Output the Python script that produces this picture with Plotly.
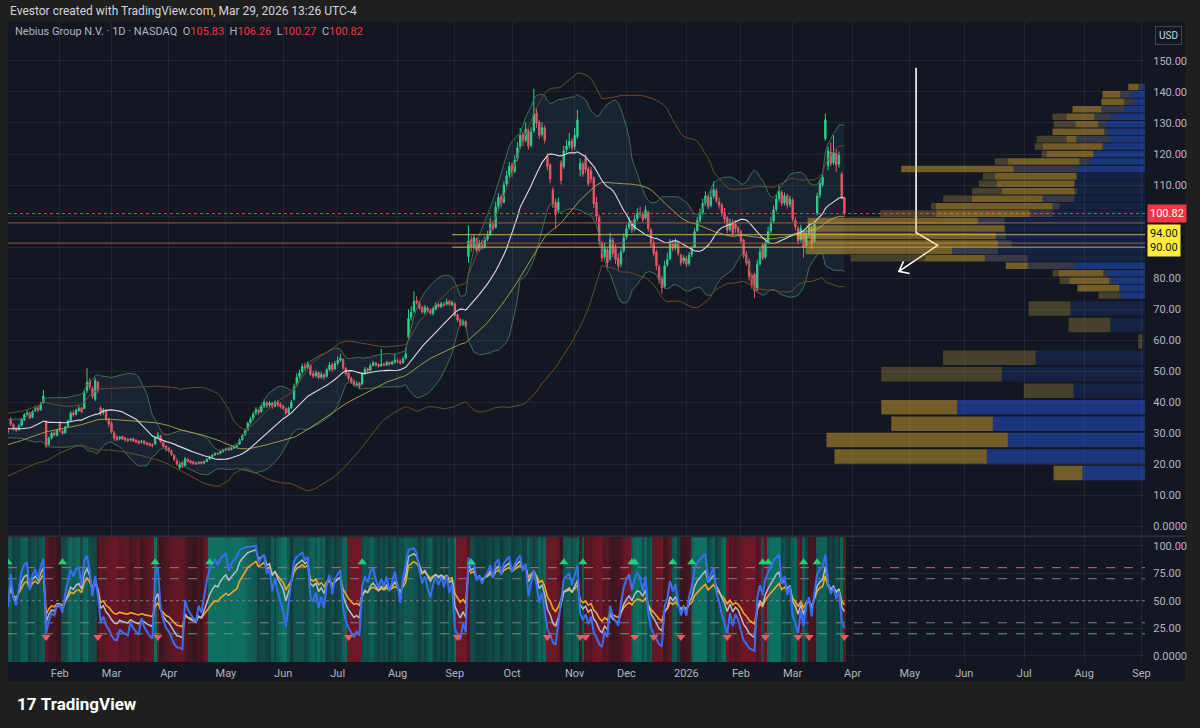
import numpy as np
import pandas as pd
import plotly.graph_objects as go

# ---------------- DATA ----------------
# off-screen warm-up closes (Oct 21 - Dec 31 2024) so indicators exist at the left edge
pre_close = [20.0,19.2,18.6,18.2,18.9,19.6,19.0,18.5,19.3,
             19.8,20.6,21.4,20.8,21.9,22.6,21.7,21.0,21.8,22.9,23.5,22.8,24.1,24.8,24.2,25.5,26.3,25.6,27.2,28.0,
             28.6,29.9,31.4,30.5,31.8,33.2,32.4,33.6,34.8,33.9,32.6,31.5,30.4,29.8,28.9,30.6,31.9,30.8,29.7,30.5,31.2]

# daily bars Jan 2 2025 .. Mar 27 2026 (one line per month)
opens = [
 31.5,31.0,34.6,32.8,31.6,31.2,32.6,34.3,36.2,36.6,35.2,37.4,38.2,37.6,39.8,33.8,26.5,28.6,30.2,29.4,
 33.6,30.8,30.2,32.2,34.2,36.6,36.2,37.4,38.2,38.0,43.8,46.8,44.5,41.0,46.4,38.2,36.8,37.4,34.6,
 33.4,30.2,28.8,28.4,29.0,28.6,28.2,27.9,28.4,27.8,27.5,27.2,27.6,27.0,26.8,26.4,26.6,28.8,29.2,27.0,25.9,
 25.2,24.4,23.0,21.0,19.0,20.6,19.6,21.6,21.2,20.9,20.6,20.4,20.8,20.5,21.0,21.8,22.5,23.1,23.6,23.6,24.2,
 24.7,25.1,24.8,25.3,25.7,26.6,28.0,29.6,31.2,33.4,34.8,36.4,37.6,37.0,38.8,39.8,39.2,39.8,38.8,40.2,39.4,
 38.8,38.0,36.6,38.2,41.0,45.6,48.4,49.8,51.8,51.2,52.0,49.2,48.6,49.6,48.2,49.0,48.4,50.6,52.2,50.8,
 52.6,53.6,53.8,51.0,49.4,47.8,46.8,45.6,46.2,46.0,49.2,50.8,50.4,51.9,52.8,52.2,51.8,52.2,52.0,52.9,52.4,52.9,
 53.4,53.2,52.8,54.2,61.0,67.4,69.4,72.8,72.2,70.6,69.0,70.4,69.8,68.6,70.0,71.6,70.8,71.6,71.6,72.6,71.4,
 71.8,68.2,66.6,65.2,66.0,87.0,92.4,90.2,92.8,89.2,91.6,90.2,92.6,94.2,97.6,96.4,103.2,106.2,104.4,110.4,113.2,
 116.4,114.4,118.6,122.4,126.2,124.4,127.6,122.8,127.4,133.2,130.2,126.4,128.4,119.0,116.4,108.4,104.4,102.0,117.2,116.0,121.4,122.8,124.2,
 122.4,125.6,115.0,116.8,118.6,115.2,114.6,112.2,104.4,99.6,91.2,86.8,89.2,86.2,92.2,89.6,86.4,84.6,88.8,
 93.2,96.4,97.8,95.8,99.2,101.2,100.6,99.4,101.2,95.6,91.4,88.4,83.6,79.8,77.4,84.4,86.2,91.0,89.8,91.6,87.4,85.6,
 86.4,84.8,87.6,90.0,95.4,98.6,101.2,104.2,106.4,103.4,106.4,108.2,104.6,103.6,101.2,99.4,95.8,98.2,97.6,96.2,
 95.0,92.2,87.6,85.4,80.8,81.2,76.4,84.6,90.8,86.8,91.6,95.2,98.4,102.2,105.6,107.6,104.2,106.6,103.8,
 105.0,98.6,96.0,92.4,95.2,90.6,94.2,96.2,92.0,101.0,106.8,110.2,125.0,116.2,120.6,117.2,120.2,116.8,113.6,105.83]
highs = [
 32.4,31.8,35.2,33.3,32.1,33.0,35.0,36.6,37.7,37.0,37.5,39.0,38.8,40.2,44.0,34.2,29.0,30.6,31.0,31.5,
 34.0,31.4,32.5,34.4,37.2,37.4,38.0,38.9,38.6,43.8,51.0,47.8,45.2,48.0,47.0,38.8,38.2,37.8,35.0,
 34.0,30.8,29.4,29.2,29.3,28.9,28.5,28.6,28.6,28.1,27.8,27.9,27.8,27.3,27.1,26.8,29.2,30.4,29.6,27.3,26.2,
 25.6,24.8,23.3,21.6,20.8,21.0,22.4,22.2,21.5,21.2,20.9,21.0,21.0,21.3,22.0,22.8,23.4,23.9,24.0,24.5,25.0,
 25.4,25.4,25.6,26.0,26.4,28.4,29.8,31.6,33.8,35.4,37.0,38.4,38.0,39.2,41.0,40.3,40.4,40.1,40.6,40.8,40.0,
 39.2,38.4,38.6,40.8,46.0,49.4,50.6,52.6,52.8,53.2,52.4,50.2,50.4,50.0,49.8,49.4,51.2,53.0,52.8,53.4,
 54.8,55.6,54.2,51.4,49.8,48.2,47.4,46.8,46.6,49.8,51.4,51.2,52.6,53.4,53.0,52.6,57.2,52.8,53.4,53.2,53.4,55.8,
 54.2,53.8,54.8,57.6,70.0,71.0,75.8,74.2,72.8,71.2,71.4,71.0,70.2,70.8,72.2,72.0,72.4,72.4,73.4,73.0,72.8,
 72.2,68.6,67.2,66.8,66.4,97.0,93.6,94.2,93.2,92.4,92.4,93.4,95.2,99.4,98.6,104.6,107.4,107.0,111.2,114.6,117.4,
 117.2,119.6,123.8,128.4,127.0,130.2,128.2,128.6,141.0,134.6,131.0,130.2,129.2,120.4,117.0,109.2,105.6,106.0,118.0,122.6,124.6,126.8,125.0,
 128.4,134.2,118.6,117.6,120.0,116.0,115.8,112.8,106.2,100.4,92.0,91.6,90.0,94.6,93.0,91.0,88.0,89.6,94.4,
 97.2,99.6,98.6,100.4,102.6,103.0,101.4,103.4,101.6,96.2,92.6,89.2,84.4,80.8,85.6,88.2,92.6,92.4,92.8,92.0,88.0,87.4,
 87.2,88.4,90.4,96.2,99.8,102.4,105.6,108.0,107.0,108.6,111.2,109.0,106.0,104.2,102.6,100.0,99.2,99.0,98.8,97.0,
 95.6,92.8,88.8,86.4,81.6,81.8,86.0,89.8,91.4,92.6,96.6,99.8,103.4,107.0,109.8,108.4,107.6,107.2,106.6,
 105.8,99.6,96.8,97.2,95.6,95.6,97.8,96.8,98.6,107.6,111.8,113.6,133.0,122.4,123.8,126.0,121.4,120.8,114.2,106.26]
lows = [
 30.2,29.8,32.4,30.9,30.4,30.9,32.2,34.0,35.6,34.6,34.9,36.9,36.8,37.3,39.5,25.2,26.0,28.0,29.0,29.0,
 30.4,29.5,29.9,31.8,33.8,35.4,35.8,36.9,36.5,37.8,43.0,44.2,41.2,40.4,43.0,35.6,35.9,34.0,32.1,
 30.0,27.6,27.4,27.8,27.9,27.4,27.1,27.4,27.2,26.8,26.5,26.7,26.4,26.0,25.8,25.5,26.4,28.4,26.8,25.3,24.2,
 23.8,22.7,21.0,19.5,18.4,18.8,19.3,20.6,20.2,19.9,19.8,20.0,20.0,20.2,20.8,21.5,22.2,22.8,23.1,23.3,23.9,
 24.4,24.3,24.5,25.0,25.4,26.3,27.6,29.2,30.8,32.8,34.2,35.9,36.0,36.6,38.2,38.2,38.4,37.9,38.4,38.6,38.0,
 37.6,36.0,36.2,37.9,40.6,45.0,47.6,49.2,50.2,50.6,48.4,47.8,48.0,47.4,47.6,47.2,48.0,50.0,49.8,50.4,
 52.0,53.0,50.4,48.6,47.0,46.0,45.0,45.2,44.4,45.6,48.8,49.6,50.0,51.6,51.6,51.2,51.4,51.6,51.8,51.8,52.0,52.4,
 52.6,52.2,52.4,53.8,60.0,66.4,68.8,71.4,69.8,68.6,68.4,69.0,68.2,68.0,69.6,70.4,70.4,70.8,71.2,71.0,71.0,
 67.6,65.8,64.4,64.6,63.8,85.0,88.4,89.4,88.2,88.6,89.2,89.6,92.0,93.6,95.2,96.0,102.2,102.8,104.0,109.6,112.4,
 112.6,113.8,117.8,121.6,122.6,123.8,121.4,122.0,126.8,128.4,124.8,125.6,123.4,114.8,110.6,102.6,96.0,100.8,110.2,115.2,120.2,121.8,120.8,
 121.2,124.8,112.8,112.6,113.8,109.6,110.6,102.6,98.2,90.6,85.2,85.8,83.4,85.6,86.8,84.6,82.8,83.6,88.2,
 92.4,95.6,94.6,95.2,98.4,99.6,98.0,98.8,95.0,90.0,87.0,82.6,78.2,75.0,76.8,83.6,85.8,88.6,89.0,87.2,84.0,84.6,
 83.6,84.0,86.8,89.6,94.8,97.8,100.4,103.4,102.2,102.8,105.6,104.2,102.4,99.8,97.8,94.4,95.0,93.6,94.6,93.8,
 91.0,86.4,84.0,79.2,76.6,73.6,75.8,84.0,85.8,86.2,90.8,94.4,97.6,101.4,104.6,103.2,103.4,102.4,102.8,
 98.2,95.4,90.8,91.6,86.6,89.8,93.0,89.4,91.4,100.2,105.8,109.4,124.2,114.8,116.0,116.4,114.2,115.6,105.4,100.27]
closes = [
 31.0,30.5,33.0,31.5,31.0,32.5,34.5,36.0,36.5,35.0,37.0,38.0,37.5,39.5,42.0,26.0,28.5,30.0,29.5,31.0,
 31.0,30.0,32.0,34.0,36.5,36.0,37.5,38.0,37.0,43.0,46.5,45.0,42.0,47.0,44.0,36.5,37.5,34.5,33.0,
 30.5,28.4,28.0,28.8,28.2,27.9,27.6,28.1,27.5,27.2,26.9,27.3,26.8,26.5,26.2,26.0,28.6,29.4,27.2,25.8,24.8,
 24.3,23.2,21.6,20.2,20.0,19.4,21.8,21.0,20.6,20.3,20.1,20.6,20.3,20.9,21.6,22.4,23.0,23.5,23.4,24.1,24.6,
 25.0,24.7,25.2,25.6,26.0,27.8,29.2,30.8,33.2,34.6,36.2,37.6,36.8,38.6,40.0,39.0,39.8,38.6,40.0,39.2,38.6,
 38.0,36.5,38.0,40.0,45.0,48.0,49.5,51.5,51.0,52.5,49.0,48.5,49.5,48.0,49.0,48.0,50.5,52.0,50.5,52.5,
 53.5,54.2,51.0,49.2,47.8,46.6,45.6,45.9,45.2,49.0,50.6,50.2,51.8,52.6,52.0,51.6,52.4,52.1,52.8,52.3,52.9,53.6,
 53.2,52.6,54.0,55.6,67.0,69.0,72.5,72.0,70.4,69.2,70.6,69.6,68.8,70.2,71.4,70.9,71.8,71.3,72.4,71.6,72.2,
 68.0,66.5,65.0,66.0,64.5,92.0,90.0,93.0,89.0,91.5,90.0,92.5,94.0,97.5,96.0,103.0,106.0,104.0,110.0,113.0,116.0,
 114.0,118.0,122.0,126.0,124.0,128.0,122.5,127.0,133.0,130.0,126.0,128.5,124.5,116.0,112.0,104.0,100.5,104.5,111.5,121.0,122.5,124.0,122.0,
 126.0,131.0,117.0,113.5,115.0,110.5,112.0,104.0,100.0,92.0,86.5,89.5,85.0,92.5,88.0,86.0,84.0,88.5,93.0,
 96.0,98.0,95.5,99.0,101.0,100.5,99.0,102.0,96.0,91.0,88.0,84.0,79.5,77.0,84.0,86.0,91.5,89.5,91.5,88.0,85.0,86.5,
 84.5,87.5,89.5,95.0,98.5,101.0,104.0,106.5,103.0,106.0,108.5,105.0,103.5,101.0,99.0,95.5,98.0,94.5,96.0,94.8,
 92.0,87.5,85.0,80.5,78.0,76.0,84.5,88.5,86.5,91.5,95.0,98.0,102.0,105.5,108.0,104.0,106.5,103.5,105.5,
 99.0,96.5,92.0,96.0,90.0,94.5,96.5,91.0,97.5,106.5,110.5,112.5,131.0,121.0,117.0,120.5,116.5,119.5,106.0,100.82]

# bar index of the first trading day of each month (axis labels)
month_idx = [20, 39, 60, 81, 102, 122, 144, 165, 186, 209, 228, 250, 270, 289, 311, 332, 352, 374, 396, 417]
month_labels = ["Feb","Mar","Apr","May","Jun","Jul","Aug","Sep","Oct","Nov","Dec","2026",
                "Feb","Mar","Apr","May","Jun","Jul","Aug","Sep"]

price_ticks = [0,10,20,30,40,50,60,70,80,90,100,110,120,130,140,150]
osc_ticks = [0, 25, 50, 75, 100]

last_price = 100.82
level_prices = [94.0, 90.0]      # yellow horizontal rays (labelled)
level_start = 164                # bar where the rays start
orange_levels = [97.8, 91.3]     # thin orange full-width lines

# oscillator signal bars (green = bullish flip, red = bearish flip)
sig_up_idx = [1, 21, 55, 75, 131, 171, 205, 212, 230, 231, 245, 252, 278, 280, 293, 298]
sig_dn_idx = [15, 34, 56, 126, 166, 199, 211, 213, 231, 238, 248, 265, 279, 291, 295, 308]

# hand-drawn arrow (bar index, price)
arrow_x = [334.3, 334.3, 342.2, 328.0]
arrow_y = [147.8, 94.7, 90.6, 82.2]
head_x = [331.9, 328.0, 329.7]
head_y = [81.5, 82.2, 85.4]

# volume profile, coarse rows (price low of each row, relative volumes)
cp_low = [14.6, 19.9, 25.2, 30.5, 35.8, 41.1, 46.4, 51.7, 57.0, 62.3, 67.6]
cp_up = [63, 159, 138, 153, 189, 72, 144, 110, 3, 35, 75]
cp_down = [29, 153, 182, 102, 76, 50, 121, 93, 4, 42, 42]
cp_va = [1, 1, 1, 1, 1, 0, 0, 0, 0, 0, 0]
# volume profile, fine rows
fp_low = [73.2, 75.6, 78.0, 80.4, 82.8, 85.2, 87.6, 90.0, 92.4, 94.8, 97.2, 99.6, 102.0, 104.4, 106.8,
          109.2, 111.6, 114.0, 116.4, 118.8, 121.2, 123.6, 126.0, 128.4, 130.8, 133.2, 135.6, 138.0, 140.4]
fp_up = [24, 26, 33, 38, 71, 118, 148, 134, 140, 141, 141, 93, 86, 71, 68, 71, 69, 68, 56, 52, 41, 36, 38, 39, 34, 21, 11, 15, 3]
fp_va = [1, 1, 1, 1, 1, 0, 0, 0, 0, 0, 0, 0, 0, 0, 0, 0, 0, 1, 1, 1, 1, 1, 1, 1, 1, 1, 1, 1, 1]
fp_mid = [3, 0, 3, 4, 47, 43, 46, 14, 10, 0, 27, 23, 7, 32, 3, 0, 0, 64, 10, 0, 2, 33, 3, 8, 17, 23, 10, 10, 4]
fp_down = [0, 42, 40, 45, 22, 60, 147, 193, 200, 198, 171, 94, 117, 71, 73, 78, 82, 113, 72, 47, 60, 10, 52, 23, 28, 29, 23, 18, 10]
fp_ext = [20, 0, 10, 6, 0, 75, 0, 0, 0, 0, 0, 56, 5, 29, 30, 18, 12, 0, 13, 5, 8, 30, 0, 22, 14, 0, 0, 0, 0]

assert len(opens) == len(highs) == len(lows) == len(closes) == 309

# ---------------- indicators ----------------
N = len(closes)
xs = np.arange(N)
npre = len(pre_close)
allc = pd.Series(pre_close + closes, dtype=float)

def bands(s, n, k=2.0):
    m = s.rolling(n, min_periods=1).mean()
    sd = s.rolling(n, min_periods=1).std(ddof=0)
    return [a.iloc[npre:].to_numpy() for a in (m, m + k * sd, m - k * sd)]

m20, u20, l20 = bands(allc, 20)
m50, u50, l50 = bands(allc, 50)

def rsi(s, n):
    d = s.diff()
    g = d.clip(lower=0)
    l = (-d).clip(lower=0)
    ag = g.ewm(alpha=1 / n, adjust=False).mean()
    al = l.ewm(alpha=1 / n, adjust=False).mean()
    return (100 - 100 / (1 + ag / al)).iloc[npre:].to_numpy()

fast = rsi(allc, 4)
mid = rsi(allc, 8)
slow = rsi(allc, 14)

# regime from the signal bars, shade strength from the fast/slow spread
ev = {i: 1 for i in sig_up_idx}
ev.update({i: -1 for i in sig_dn_idx if i not in ev})
state = np.zeros(N)
cur = -1
for i in range(N):
    if i in ev:
        cur = ev[i]
    state[i] = cur
strength = 0.3 + 0.7 * np.clip(np.abs(fast - slow) / 25.0, 0, 1)
shade = state * strength

# ---------------- style ----------------
BG = "#131722"
GRID = "rgba(54,58,69,0.45)"
TXT = "#b2b5be"
UPC = "#2bd48c"
DNC = "#f5535f"
FONT = "Roboto"
XD = [8 / 1200, 1150 / 1200]
XR = [0.99, 418.4]
TRI_UP_Y, TRI_DN_Y = 85, 17

fig = go.Figure()

# 20-period Bollinger fill + bands
fig.add_trace(go.Scatter(x=xs, y=u20, mode="lines", line=dict(color="#3f6e55", width=1), xaxis="x", yaxis="y"))
fig.add_trace(go.Scatter(x=xs, y=l20, mode="lines", line=dict(color="#3f6e55", width=1), fill="tonexty",
                         fillcolor="rgba(90,140,175,0.11)", xaxis="x", yaxis="y"))
# 50-period bands
fig.add_trace(go.Scatter(x=xs, y=u50, mode="lines", line=dict(color="#6a4a30", width=1), xaxis="x", yaxis="y"))
fig.add_trace(go.Scatter(x=xs, y=l50, mode="lines", line=dict(color="#6a4a30", width=1), xaxis="x", yaxis="y"))
fig.add_trace(go.Scatter(x=xs, y=m50, mode="lines", line=dict(color="#a39550", width=1), xaxis="x", yaxis="y"))
fig.add_trace(go.Scatter(x=xs, y=m20, mode="lines", line=dict(color="#d9dce3", width=1.1), xaxis="x", yaxis="y"))

# horizontal levels
for p in orange_levels:
    fig.add_trace(go.Scatter(x=XR, y=[p, p], mode="lines", line=dict(color="#a8563a", width=1), xaxis="x", yaxis="y"))
for p in level_prices:
    fig.add_trace(go.Scatter(x=[level_start, XR[1]], y=[p, p], mode="lines", line=dict(color="#c8b24e", width=1),
                             xaxis="x", yaxis="y"))
fig.add_trace(go.Scatter(x=XR, y=[last_price, last_price], mode="lines",
                         line=dict(color="#f23645", width=1, dash="dot"), xaxis="x", yaxis="y"))

# candles
fig.add_trace(go.Candlestick(x=xs, open=opens, high=highs, low=lows, close=closes,
                             increasing=dict(line=dict(color=UPC, width=1), fillcolor=UPC),
                             decreasing=dict(line=dict(color=DNC, width=1), fillcolor=DNC),
                             whiskerwidth=0, xaxis="x", yaxis="y"))

# volume profile on overlay axis x3 (0 at right edge)
UP_B, UP_D = "rgba(41,98,255,0.42)", "rgba(41,98,255,0.15)"
MIDC = "rgba(140,140,155,0.30)"
DN_B, DN_D = "rgba(230,180,50,0.45)", "rgba(190,160,70,0.30)"

def profile(lows_, row, up, va, parts):
    y = [lo + row / 2 for lo in lows_]
    base = np.zeros(len(lows_))
    up = np.array(up, float)
    fig.add_trace(go.Bar(x=up, y=y, base=base, orientation="h", width=row * 0.88,
                         marker=dict(color=[UP_B if v else UP_D for v in va], line=dict(width=0)),
                         xaxis="x3", yaxis="y"))
    base = base + up
    for vals, cols in parts:
        vals = np.array(vals, float)
        fig.add_trace(go.Bar(x=vals, y=y, base=base, orientation="h", width=row * 0.88,
                             marker=dict(color=cols, line=dict(width=0)), xaxis="x3", yaxis="y"))
        base = base + vals

profile(cp_low, 5.3, cp_up, cp_va, [(cp_down, [DN_B if v else DN_D for v in cp_va])])
profile(fp_low, 2.4, fp_up, fp_va, [(fp_mid, MIDC), (fp_down, DN_B), (fp_ext, DN_D)])

# arrow drawing
fig.add_trace(go.Scatter(x=arrow_x, y=arrow_y, mode="lines", line=dict(color="#ffffff", width=1.6), xaxis="x", yaxis="y"))
fig.add_trace(go.Scatter(x=head_x, y=head_y, mode="lines", line=dict(color="#ffffff", width=1.6), xaxis="x", yaxis="y"))

# ---- oscillator pane ----
fig.add_trace(go.Heatmap(x=xs, y=[-10, 120], z=[shade, shade], zmin=-1, zmax=1, showscale=False,
                         colorscale=[[0, "#6e1727"], [0.35, "#34161f"], [0.5, "#241a26"],
                                     [0.65, "#123a3b"], [1, "#0e7062"]],
                         xaxis="x2", yaxis="y2"))
for lv, col, dash in [(80, "#d9607a", "dash"), (70, "#7b7f8a", "dash"), (50, "#7b7f8a", "dot"),
                      (30, "#7b7f8a", "dash"), (20, "#5f9c74", "dash")]:
    fig.add_trace(go.Scatter(x=XR, y=[lv, lv], mode="lines", line=dict(color=col, width=1, dash=dash),
                             xaxis="x2", yaxis="y2"))
fig.add_trace(go.Scatter(x=xs, y=slow, mode="lines", line=dict(color="#f5a623", width=1.6), xaxis="x2", yaxis="y2"))
fig.add_trace(go.Scatter(x=xs, y=mid, mode="lines", line=dict(color="#b9bcc6", width=1.5), xaxis="x2", yaxis="y2"))
fig.add_trace(go.Scatter(x=xs, y=fast, mode="lines", line=dict(color="#3a6cf4", width=2), xaxis="x2", yaxis="y2"))
fig.add_trace(go.Scatter(x=sig_up_idx, y=[TRI_UP_Y] * len(sig_up_idx), mode="markers",
                         marker=dict(symbol="triangle-up", size=8, color="#22d07a"), xaxis="x2", yaxis="y2"))
fig.add_trace(go.Scatter(x=sig_dn_idx, y=[TRI_DN_Y] * len(sig_dn_idx), mode="markers",
                         marker=dict(symbol="triangle-down", size=8, color="#f25563"), xaxis="x2", yaxis="y2"))

tf = dict(family=FONT, size=11, color=TXT)
# price-scale labels hidden behind the price/level tags (as on the reference)
hidden = {round(last_price, -1)} | {round(p, -1) for p in level_prices}
price_text = [("" if v in hidden else ("0.0000" if v == 0 else f"{v:.2f}")) for v in price_ticks]
fig.update_layout(
    width=1200, height=728, margin=dict(l=0, r=0, t=0, b=0),
    paper_bgcolor="#1f1f1f", plot_bgcolor="rgba(0,0,0,0)",
    showlegend=False, barmode="overlay", hovermode=False,
    xaxis=dict(domain=XD, range=XR, anchor="y", tickvals=month_idx, showticklabels=False, ticks="",
               showgrid=True, gridcolor=GRID, zeroline=False, rangeslider=dict(visible=False)),
    yaxis=dict(domain=[1 - 536 / 728, 1 - 22 / 728], range=[-2.8, 162.53], side="right", anchor="x",
               tickvals=price_ticks, ticktext=price_text,
               showgrid=True, gridcolor=GRID, zeroline=False, ticks="", tickfont=tf, ticklabelstandoff=7),
    xaxis2=dict(domain=XD, range=XR, anchor="y2", tickvals=month_idx, ticktext=month_labels, ticks="",
                showgrid=True, gridcolor=GRID, zeroline=False, tickfont=tf, ticklabelstandoff=3),
    yaxis2=dict(domain=[1 - 663 / 728, 1 - 538 / 728], range=[-5.71, 107.62], side="right", anchor="x2",
                tickvals=osc_ticks, ticktext=["0.0000", "25.00", "50.00", "75.00", "100.00"],
                showgrid=True, gridcolor=GRID, zeroline=False, ticks="", tickfont=tf, ticklabelstandoff=7),
    xaxis3=dict(overlaying="x", range=[1142, 0], visible=False, anchor="y"),
    shapes=[
        dict(type="rect", xref="paper", yref="paper", x0=8 / 1200, x1=1190 / 1200, y0=1 - 682 / 728, y1=1 - 22 / 728,
             fillcolor=BG, line=dict(width=0), layer="below"),
        dict(type="line", xref="paper", yref="paper", x0=8 / 1200, x1=1190 / 1200, y0=1 - 537 / 728, y1=1 - 537 / 728,
             line=dict(color="#2a2e39", width=2), layer="below"),
    ],
)

ann = [
    dict(x=8 / 1200, y=1 - 11 / 728, xref="paper", yref="paper", xanchor="left", yanchor="middle", showarrow=False,
         text="Evestor created with TradingView.com, Mar 29, 2026 13:26 UTC-4",
         font=dict(family=FONT, size=12, color="#d1d4dc")),
    dict(x=13 / 1200, y=1 - 32 / 728, xref="paper", yref="paper", xanchor="left", yanchor="middle", showarrow=False,
         text=("Nebius Group N.V. · 1D · NASDAQ  O<span style='color:#f23645'>%.2f</span>  H<span style='color:#f23645'>%.2f</span>"
               "  L<span style='color:#f23645'>%.2f</span>  C<span style='color:#f23645'>%.2f</span>")
              % (opens[-1], highs[-1], lows[-1], closes[-1]),
         font=dict(family=FONT, size=11, color=TXT)),
    dict(x=1173 / 1200, y=1 - 36 / 728, xref="paper", yref="paper", xanchor="center", yanchor="middle", showarrow=False,
         text="USD", bgcolor=BG, bordercolor="#434651", borderwidth=1, borderpad=3,
         font=dict(family=FONT, size=10, color="#d1d4dc")),
    dict(x=1152 / 1200, y=last_price, xref="paper", yref="y", xanchor="left", yanchor="middle", showarrow=False,
         text=f"{last_price:.2f}", bgcolor="#f23645", borderpad=2, font=dict(family=FONT, size=11, color="#ffffff")),
    dict(x=1152 / 1200, y=sum(level_prices) / len(level_prices), xref="paper", yref="y", xanchor="left",
         yanchor="middle", showarrow=False, align="left",
         text="<br>".join(f"{p:.2f}" for p in level_prices), bgcolor="#ffeb3b", borderpad=2,
         font=dict(family=FONT, size=11, color="#131722")),
    dict(x=15 / 1200, y=1 - 705 / 728, xref="paper", yref="paper", xanchor="left", yanchor="middle", showarrow=False,
         text="<b>17</b> <b>TradingView</b>", font=dict(family=FONT, size=17, color="#ffffff")),
]
fig.update_layout(annotations=ann)

fig.write_html("out.html")
